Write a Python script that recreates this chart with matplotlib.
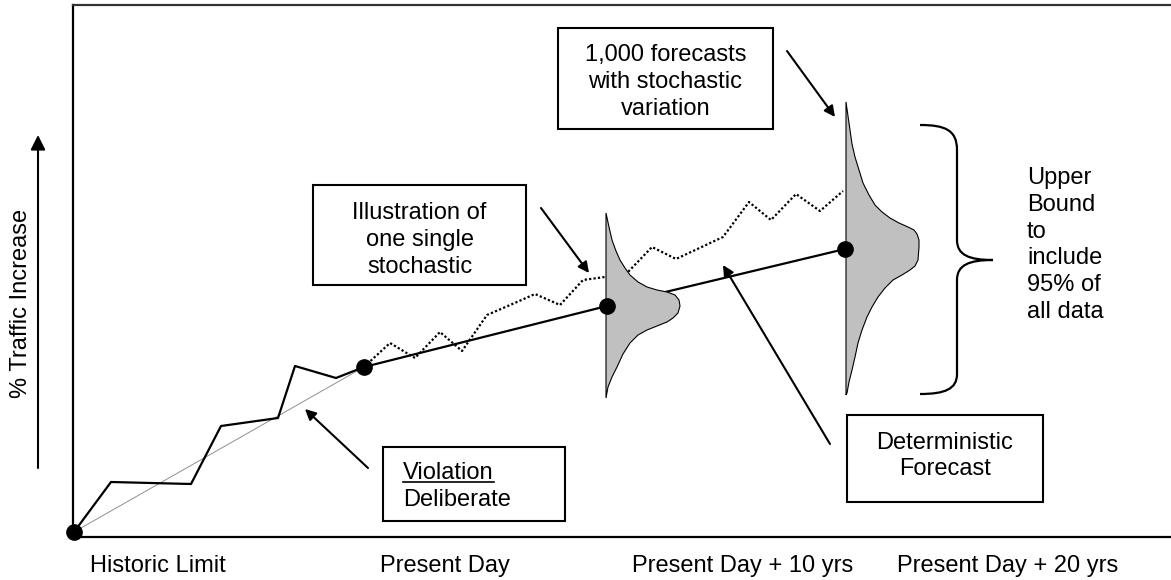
import numpy as np
import matplotlib.pyplot as plt
from matplotlib.patches import Rectangle, Polygon, PathPatch
from matplotlib.path import Path

plt.rcParams['font.family'] = ['Liberation Sans', 'DejaVu Sans']
plt.rcParams['font.size'] = 17

# 历史数据（实线）
hist_x = [1, 38, 118, 148, 205, 222, 263, 291]
hist_y = [5, 55, 53, 111, 119, 171, 159, 170]

# 历史趋势（细灰线）
trend_x = [1, 291]
trend_y = [5, 170]

# 确定性预测
det_x = [291, 534, 772]
det_y = [170, 231, 288]

# 单条随机路径（虚线）
stoch_x = [291, 317, 342, 367, 389, 414, 444, 462, 487, 510, 532, 555,
           579, 603, 650, 676, 698, 723, 747, 770]
stoch_y = [170, 194, 179, 205, 186, 222, 235, 243, 232, 257, 260, 265,
           290, 278, 300, 335, 317, 343, 326, 346]

# 两个分布的轮廓
dist1_x = [533, 536, 539, 543, 547, 552, 557, 565, 574, 584, 594, 602, 606, 607,
           605, 600, 594, 584, 574, 565, 557, 550, 544, 539, 535, 533]
dist1_y = [324, 310, 297, 286, 277, 269, 262, 255, 250, 247, 245, 242, 237, 231,
           224, 219, 215, 211, 207, 202, 194, 183, 170, 160, 150, 139]
dist2_x = [773, 775, 777, 779, 782, 786, 790, 796, 802, 809, 817, 826, 835, 841, 844, 846,
           846, 845, 842, 837, 829, 820, 812, 805, 799, 794, 789, 785, 782, 779, 776, 774, 773]
dist2_y = [435, 421, 407, 393, 380, 367, 354, 342, 332, 325, 319, 314, 310, 307, 303, 297,
           290, 277, 271, 267, 262, 257, 249, 240, 230, 220, 207, 194, 180, 167, 155, 144, 142]

# 横轴标签
xlabels = ['Historic Limit', 'Present Day', 'Present Day + 10 yrs', 'Present Day + 20 yrs']
xlabel_pos = [17, 307, 559, 824]

fig = plt.figure(figsize=(11.71, 5.80), dpi=100)
ax = fig.add_axes([73 / 1171, 43 / 580, 1098 / 1171, 532 / 580])
ax.set_xlim(0, 1098)
ax.set_ylim(0, 532)
ax.set_xticks([])
ax.set_yticks([])
for s in ['left', 'bottom', 'top']:
    ax.spines[s].set_linewidth(1.6)
ax.spines['top'].set_color('#333333')
ax.spines['right'].set_visible(False)

ax.plot(trend_x, trend_y, color='#909090', lw=0.7, zorder=2)
ax.plot(hist_x, hist_y, color='black', lw=1.6, zorder=2)
ax.plot(det_x, det_y, color='black', lw=1.6, zorder=2)
ax.plot(stoch_x, stoch_y, color='black', lw=1.6, linestyle=(0, (1, 1)), zorder=2)

for dx, dy in [(dist1_x, dist1_y), (dist2_x, dist2_y)]:
    ax.add_patch(Polygon(np.column_stack([dx, dy]), closed=True, facecolor='#c0c0c0',
                         edgecolor='black', lw=0.8, zorder=3))

dot_x = [hist_x[0]] + det_x
dot_y = [hist_y[0]] + det_y
ax.plot(dot_x, dot_y, 'o', color='black', markersize=11, zorder=5, clip_on=False)

# 大括号
brace_left, brace_mid, brace_tip = 847, 884, 920
brace_top, brace_center, brace_bottom = 412, 277, 143
L, M, T = brace_left, brace_mid, brace_tip
verts = [(L, brace_top), (L + 25, brace_top), (M, brace_top - 5), (M, brace_top - 25),
         (M, brace_center + 20),
         (M, brace_center + 5), (M + 12, brace_center), (T, brace_center),
         (M + 12, brace_center), (M, brace_center - 5), (M, brace_center - 20),
         (M, brace_bottom + 20),
         (M, brace_bottom + 5), (L + 25, brace_bottom), (L, brace_bottom)]
codes = [Path.MOVETO] + [Path.CURVE4] * 3 + [Path.LINETO] + [Path.CURVE4] * 6 + \
        [Path.LINETO] + [Path.CURVE4] * 3
ax.add_patch(PathPatch(Path(verts, codes), facecolor='none', edgecolor='black', lw=1.6, zorder=4))

# 文本框
boxes = [(240, 252, 213, 100), (310, 16, 182, 74), (774, 35, 196, 87), (485, 408, 215, 101)]
for bx, by, bw, bh in boxes:
    ax.add_patch(Rectangle((bx, by), bw, bh, facecolor='white', edgecolor='black', lw=1.5, zorder=4))

ls = 1.29
ax.text(346.5, 297, 'Illustration of\none single\nstochastic', ha='center', va='center',
        linespacing=ls, zorder=6)
ax.text(872, 81, 'Deterministic\nForecast', ha='center', va='center', linespacing=ls, zorder=6)
ax.text(592.5, 455, '1,000 forecasts\nwith stochastic\nvariation', ha='center', va='center',
        linespacing=ls, zorder=6)
ax.text(954, 292, 'Upper\nBound\nto\ninclude\n95% of\nall data', ha='left', va='center',
        linespacing=ls, zorder=6)
t_vio = ax.text(330, 58, 'Violation', ha='left', va='baseline', zorder=6)
ax.text(330, 31, 'Deliberate', ha='left', va='baseline', zorder=6)

fig.canvas.draw()
bb = t_vio.get_window_extent().transformed(ax.transData.inverted())
ax.plot([bb.x0, bb.x1], [55, 55], color='black', lw=1.2, zorder=6)

# 箭头
arrows = [((468, 329), (516, 264)), ((295, 69), (232, 128)),
          ((757, 93), (650, 272)), ((714, 486), (762, 420))]
for start, tip in arrows:
    ax.annotate('', xy=tip, xytext=start,
                arrowprops=dict(arrowstyle='-|>', color='black', lw=1.5,
                                mutation_scale=16, shrinkA=0, shrinkB=0), zorder=6)

for lab, px in zip(xlabels, xlabel_pos):
    ax.text(px, -35, lab, ha='left', va='baseline', clip_on=False)

fig.text(21 / 1171, 1 - 303 / 580, '% Traffic Increase', rotation=90, ha='center', va='center')
ax.annotate('', xy=(38, 445), xytext=(38, 112), xycoords='figure pixels',
            textcoords='figure pixels',
            arrowprops=dict(arrowstyle='-|>', color='black', lw=1.5, mutation_scale=22,
                            shrinkA=0, shrinkB=0))

fig.savefig('out.png', dpi=100)
